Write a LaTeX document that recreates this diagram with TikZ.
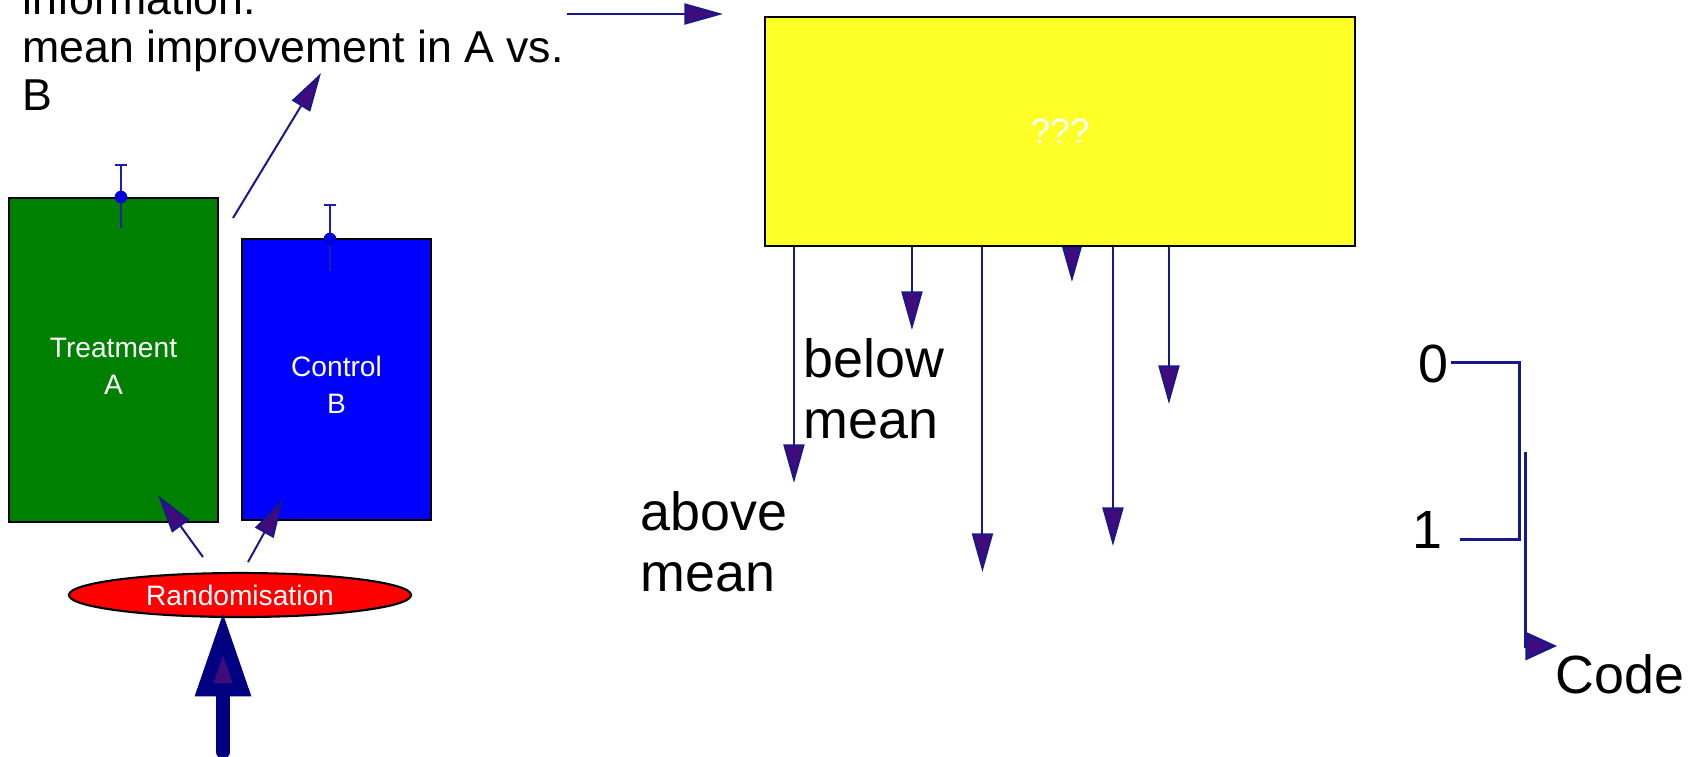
\documentclass[tikz,border=0pt]{standalone}
\usepackage{fontspec}
\setmainfont{Liberation Sans}
\usetikzlibrary{arrows.meta,shapes.geometric,calc}
\definecolor{linecol}{RGB}{24,24,140}
\definecolor{arrfill}{RGB}{64,12,124}
\definecolor{navyc}{RGB}{0,0,128}
\definecolor{greenc}{RGB}{0,128,0}
\definecolor{bluec}{RGB}{0,0,255}
\definecolor{yellowc}{RGB}{255,255,40}
\definecolor{redc}{RGB}{255,0,0}
\definecolor{barcol}{RGB}{30,30,170}
\definecolor{dotcol}{RGB}{0,0,220}
\begin{document}
\begin{tikzpicture}[x=0.01cm,y=-0.01cm,
  conn/.style={draw=linecol, line width=0.57pt, -{Triangle[length=11pt,width=6pt,fill=arrfill]}},
  shortconn/.style={draw=linecol, line width=0.57pt, -{Triangle[length=10pt,width=5.5pt,fill=arrfill]}},
  bigarr/.style={draw=navyc, line width=3.8pt, line cap=round, -{Triangle[length=24pt,width=15pt,fill=arrfill]}},
  brk/.style={draw=linecol, line width=0.85pt},
  bar/.style={draw=barcol, line width=0.6pt},
  box/.style={draw=black, line width=0.5pt, inner sep=0pt},
  boxtxt/.style={inner sep=0pt, text=white, align=center, font=\fontsize{8}{10.5}\selectfont},
  toptxt/.style={inner sep=0pt, anchor=base west, font=\fontsize{12.7}{13.7}\selectfont},
  bigtxt/.style={inner sep=0pt, font=\fontsize{15.3}{17.4}\selectfont}
]
\useasboundingbox (0,0) rectangle (1703,756);
\clip (0,0) rectangle (1703,756);

% top-left text
\node[toptxt] (t1) at (22,14) {information:};
\node[toptxt] (t2) at (22,62) {mean improvement in A vs.};
\node[toptxt] (t3) at (22,110) {B};

% boxes
\node[box, fill=greenc, minimum width=2.09cm, minimum height=3.24cm] (A) at (113.5,360) {};
\node[boxtxt] (At) at ($(A.center)+(0,6)$) {Treatment\\A};
\node[box, fill=bluec, minimum width=1.89cm, minimum height=2.81cm] (B) at (336.5,379.5) {};
\node[boxtxt] (Bt) at ($(B.center)+(0,5)$) {Control\\B};
\node[draw=black, line width=0.5pt, fill=yellowc, minimum width=5.9cm, minimum height=2.29cm, inner sep=0pt, text=white, font=\fontsize{10}{12}\selectfont] (Y) at (1060,131.5) {???};
\node[ellipse, draw=black, line width=0.6pt, fill=redc, minimum width=3.42cm, minimum height=0.44cm, inner sep=0pt, text=white, font=\fontsize{8}{10}\selectfont] (R) at (240,595) {Randomisation};

% error bars
\coordinate (eA) at (121,197);
\draw[bar] ($(eA)+(0,-32)$) -- ($(eA)+(0,31)$);
\draw[bar] ($(eA)+(-6,-32)$) -- ($(eA)+(6,-32)$);
\fill[dotcol] (eA) circle (1.8pt);
\coordinate (eB) at (330,239);
\draw[bar] ($(eB)+(0,-34)$) -- ($(eB)+(0,32)$);
\draw[bar] ($(eB)+(-6,-34)$) -- ($(eB)+(6,-34)$);
\fill[dotcol] (eB) circle (1.8pt);

% arrows from randomisation
\coordinate (rA) at (203,557); \coordinate (tA) at (158,495);
\draw[conn] (rA) -- (tA);
\coordinate (rB) at (248,562); \coordinate (tB) at (283,499);
\draw[conn] (rB) -- (tB);

% big arrow
\coordinate (bt) at (223,752);
\draw[bigarr] (bt) -- ($(bt |- R.south)+(0,-6)$);

% diagonal arrow to text
\coordinate (d0) at (233,218); \coordinate (d1) at (321,73);
\draw[conn] (d0) -- (d1);

% top horizontal arrow
\coordinate (h0) at (567,14); \coordinate (h1) at (723,14);
\draw[conn] (h0) -- (h1);

% arrows down from yellow box
\draw[conn] ($(Y.south west)+(30,0)$) -- ++(0,236);
\draw[conn] ($(Y.south west)+(148,0)$) -- ++(0,83);
\draw[conn] ($(Y.south west)+(218.5,0)$) -- ++(0,325);
\draw[shortconn] ($(Y.south west)+(308,0)$) -- ++(0,35);
\draw[conn] ($(Y.south west)+(349,0)$) -- ++(0,299);
\draw[conn] ($(Y.south west)+(405,0)$) -- ++(0,157);

% labels
\node[bigtxt, anchor=base west] (bl1) at (803,377) {below};
\node[bigtxt, anchor=base west] (bl2) at (803,438) {mean};
\node[bigtxt, anchor=base west] (ab1) at (640,530) {above};
\node[bigtxt, anchor=base west] (ab2) at (640,591) {mean};

% code bracket
\node[bigtxt, anchor=base] (n0) at (1433,382) {0};
\node[bigtxt, anchor=base] (n1) at (1427,548) {1};
\node[bigtxt, anchor=base west] (code) at (1555,693) {Code};
\coordinate (b0) at (1451,362); \coordinate (bc) at (1519,539); \coordinate (b1) at (1460,539);
\draw[brk] (b0) -| (bc) -- (b1);
\coordinate (c0) at (1525,452); \coordinate (c1) at (1557,646);
\draw[brk, -{Triangle[length=9pt,width=8pt,fill=arrfill]}] (c0) |- (c1);
\end{tikzpicture}
\end{document}
